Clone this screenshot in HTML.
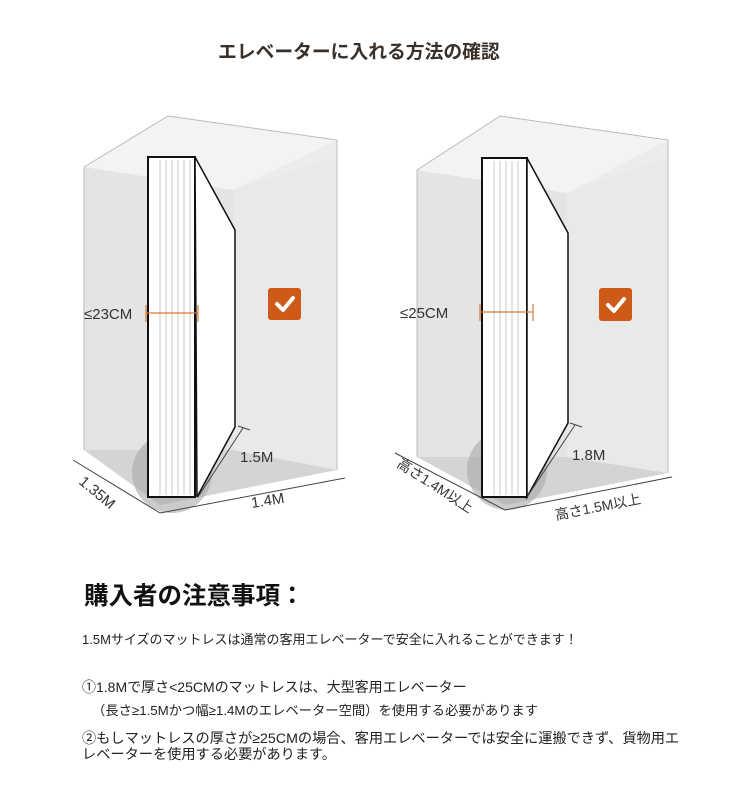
<!DOCTYPE html>
<html><head><meta charset="utf-8"><style>
body{margin:0;width:750px;height:793px;background:#fff;position:relative;overflow:hidden;font-family:"Liberation Sans","Noto Sans CJK JP",sans-serif;}
.t{position:absolute;white-space:nowrap;color:#222;}
svg{position:absolute;left:0;top:0}
</style></head><body>
<svg width="750" height="793" viewBox="0 0 750 793">
<g id="box1">
 <polygon points="84,167 168,116 337,140 337,470 233,450 84,450" fill="#ececec"/>
 <polygon points="233,190 337,157 337,470 233,450" fill="#e9e9e9"/>
 <polygon points="84,167 233,190 233,450 84,450" fill="#e4e4e4"/>
 <polygon points="84,167 168,116 337,140 233,190" fill="#f3f3f3"/>
 <polygon points="84,450 233,450 337,470 160,505" fill="#d4d4d4"/>
 <polyline points="84,450 84,167 168,116 337,140 337,470" fill="none" stroke="#bbb" stroke-width="1"/>
 <circle cx="172" cy="473" r="40" fill="#a8a8a8" opacity="0.6"/>
 <rect x="148" y="157" width="47" height="340" fill="#fff" stroke="#111" stroke-width="2"/>
 <g stroke="#bbb" stroke-width="0.8"><line x1="160" y1="160" x2="160" y2="495"/><line x1="166" y1="160" x2="166" y2="495"/><line x1="172" y1="160" x2="172" y2="495"/><line x1="178" y1="160" x2="178" y2="495"/><line x1="184" y1="160" x2="184" y2="495"/><line x1="190" y1="160" x2="190" y2="495"/></g>
 <polygon points="195,157 235,230 235,427 197,497" fill="#fff" stroke="#111" stroke-width="1.5"/>
 <line x1="146" y1="313" x2="198" y2="313" stroke="#d87a3a" stroke-width="1.2"/>
 <line x1="146" y1="305" x2="146" y2="322" stroke="#d87a3a" stroke-width="1.2"/>
 <line x1="198" y1="305" x2="198" y2="322" stroke="#d87a3a" stroke-width="1.2"/>
 <rect x="268" y="288" width="33" height="32" rx="3" fill="#cd5a17"/>
 <polyline points="277,304 283,310 293,298" fill="none" stroke="#fff" stroke-width="4" stroke-linecap="round" stroke-linejoin="round"/>
 <g stroke="#444" stroke-width="1" fill="none">
  <line x1="73" y1="460" x2="160" y2="513"/><line x1="160" y1="513" x2="345" y2="478"/><line x1="198" y1="497" x2="243" y2="428"/><line x1="238" y1="426" x2="250" y2="430"/>
 </g>
</g>
<g id="box2">
 <polygon points="417,170 500,116 668,140 668,473 567,457 417,457" fill="#ececec"/>
 <polygon points="567,193 668,157 668,473 567,457" fill="#e9e9e9"/>
 <polygon points="417,170 567,193 567,457 417,457" fill="#e4e4e4"/>
 <polygon points="417,170 500,116 668,140 567,193" fill="#f3f3f3"/>
 <polygon points="417,457 567,457 668,473 505,505" fill="#d4d4d4"/>
 <polyline points="417,457 417,170 500,116 668,140 668,473" fill="none" stroke="#bbb" stroke-width="1"/>
 <circle cx="507" cy="470" r="40" fill="#a8a8a8" opacity="0.6"/>
 <rect x="482" y="158" width="45" height="339" fill="#fff" stroke="#111" stroke-width="2"/>
 <g stroke="#bbb" stroke-width="0.8"><line x1="494" y1="161" x2="494" y2="495"/><line x1="500" y1="161" x2="500" y2="495"/><line x1="506" y1="161" x2="506" y2="495"/><line x1="512" y1="161" x2="512" y2="495"/><line x1="518" y1="161" x2="518" y2="495"/></g>
 <polygon points="527,158 568,233 568,423 527,497" fill="#fff" stroke="#111" stroke-width="1.5"/>
 <line x1="480" y1="312" x2="533" y2="312" stroke="#d87a3a" stroke-width="1.2"/>
 <line x1="480" y1="304" x2="480" y2="321" stroke="#d87a3a" stroke-width="1.2"/>
 <line x1="533" y1="304" x2="533" y2="321" stroke="#d87a3a" stroke-width="1.2"/>
 <rect x="599" y="288" width="33" height="33" rx="3" fill="#cd5a17"/>
 <polyline points="608,305 614,311 624,299" fill="none" stroke="#fff" stroke-width="4" stroke-linecap="round" stroke-linejoin="round"/>
 <g stroke="#444" stroke-width="1" fill="none">
  <line x1="395" y1="453" x2="505" y2="510"/><line x1="505" y1="510" x2="672" y2="477"/><line x1="527" y1="497" x2="575" y2="425"/><line x1="570" y1="423" x2="582" y2="427"/>
 </g>
</g>
<g font-family="Liberation Sans, Noto Sans CJK JP, sans-serif" fill="#333" font-size="15">
 <text x="84" y="319">≤23CM</text>
 <text x="400" y="318">≤25CM</text>
 <text x="240" y="462">1.5M</text>
 <text x="572" y="460">1.8M</text>
 <text x="252" y="508" transform="rotate(-9 252 508)">1.4M</text>
 <text x="78" y="483" transform="rotate(40 78 483)">1.35M</text>
 <text x="396" y="466" font-size="14" transform="rotate(33 396 466)">高さ1.4M以上</text>
 <text x="556" y="520" font-size="14" transform="rotate(-11 556 520)">高さ1.5M以上</text>
</g>
</svg>
<div class="t" style="left:218px;top:37px;font-size:18.8px;color:#3a302a;font-weight:bold;">エレベーターに入れる方法の確認</div>
<div class="t" style="left:84px;top:577px;font-size:24.5px;color:#111;font-weight:bold;">購入者の注意事項：</div>
<div class="t" style="left:82px;top:629px;font-size:13px;">1.5Mサイズのマットレスは通常の客用エレベーターで安全に入れることができます！</div>
<div class="t" style="left:82px;top:677px;font-size:14px;">①1.8Mで厚さ&lt;25CMのマットレスは、大型客用エレベーター</div>
<div class="t" style="left:92px;top:700px;font-size:13.3px;">（長さ≥1.5Mかつ幅≥1.4Mのエレベーター空間）を使用する必要があります</div>
<div class="t" style="left:82px;top:728px;font-size:14.2px;">②もしマットレスの厚さが≥25CMの場合、客用エレベーターでは安全に運搬できず、貨物用エ</div>
<div class="t" style="left:82px;top:744px;font-size:14.2px;">レベーターを使用する必要があります。</div>
</body></html>
